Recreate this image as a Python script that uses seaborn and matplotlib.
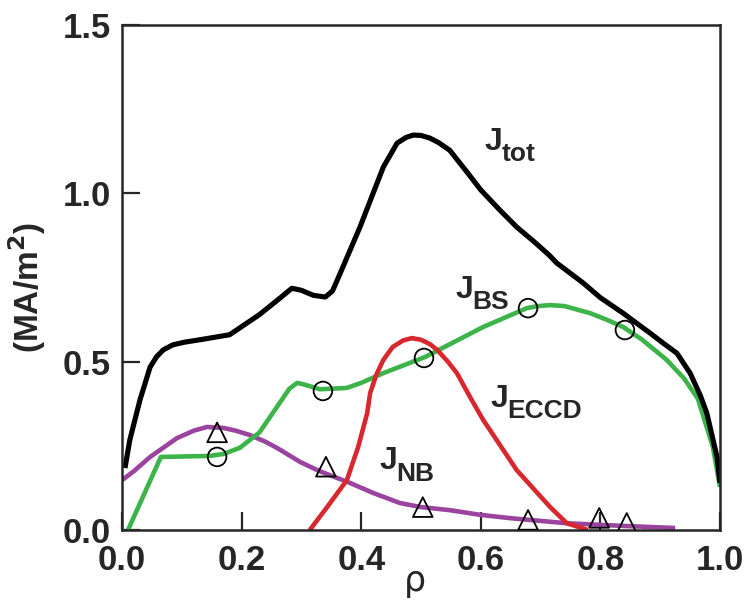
import numpy as np
import pandas as pd
import matplotlib
matplotlib.use("Agg")
import matplotlib.pyplot as plt
import seaborn as sns

# ---- data ----
rho_tot = [0.005, 0.013, 0.03, 0.047, 0.058, 0.069, 0.085, 0.105, 0.13, 0.18, 0.23, 0.265, 0.284,
           0.30, 0.32, 0.34, 0.352, 0.365, 0.398, 0.437, 0.46, 0.475, 0.487, 0.50, 0.515, 0.53,
           0.548, 0.577, 0.60, 0.632, 0.66, 0.69, 0.714, 0.727, 0.771, 0.80, 0.838, 0.86, 0.883,
           0.905, 0.928, 0.95, 0.967, 0.978, 0.995, 1.0]
j_tot = [0.184, 0.267, 0.386, 0.484, 0.515, 0.535, 0.55, 0.558, 0.565, 0.58, 0.64, 0.69, 0.718,
         0.712, 0.697, 0.692, 0.71, 0.763, 0.90, 1.078, 1.149, 1.166, 1.173, 1.172, 1.164, 1.15,
         1.128, 1.063, 1.01, 0.95, 0.90, 0.855, 0.817, 0.793, 0.734, 0.69, 0.644, 0.615, 0.585,
         0.555, 0.525, 0.466, 0.40, 0.347, 0.217, 0.14]

rho_bs = [0.01, 0.065, 0.147, 0.17, 0.197, 0.23, 0.28, 0.293, 0.305, 0.331, 0.376, 0.40, 0.437,
          0.507, 0.604, 0.677, 0.695, 0.716, 0.74, 0.783, 0.81, 0.838, 0.87, 0.911, 0.94, 0.963,
          0.988, 1.0]
j_bs = [0.0, 0.217, 0.22, 0.226, 0.244, 0.29, 0.42, 0.437, 0.432, 0.418, 0.422, 0.437, 0.466,
        0.514, 0.603, 0.659, 0.665, 0.668, 0.665, 0.644, 0.625, 0.603, 0.565, 0.505, 0.45, 0.39,
        0.247, 0.128]

rho_nb = [0.0, 0.02, 0.047, 0.092, 0.12, 0.142, 0.17, 0.19, 0.214, 0.24, 0.259, 0.298, 0.33, 0.381,
          0.42, 0.465, 0.50, 0.548, 0.599, 0.65, 0.744, 0.84, 0.925]
j_nb = [0.148, 0.175, 0.217, 0.273, 0.295, 0.306, 0.303, 0.295, 0.282, 0.262, 0.244, 0.202, 0.175,
        0.14, 0.11, 0.08, 0.068, 0.059, 0.045, 0.035, 0.02, 0.012, 0.006]

rho_eccd = [0.314, 0.343, 0.376, 0.395, 0.41, 0.415, 0.425, 0.437, 0.445, 0.453, 0.47, 0.485, 0.50,
            0.515, 0.527, 0.545, 0.56, 0.582, 0.604, 0.66, 0.716, 0.744, 0.779]
j_eccd = [0.0, 0.068, 0.148, 0.247, 0.347, 0.407, 0.46, 0.505, 0.525, 0.544, 0.563, 0.57, 0.565,
          0.552, 0.535, 0.50, 0.466, 0.395, 0.327, 0.178, 0.068, 0.02, 0.0]

bs_mark_rho = [0.159, 0.336, 0.505, 0.679, 0.841]
bs_mark_j = [0.217, 0.413, 0.511, 0.659, 0.594]

nb_mark_rho = [0.159, 0.341, 0.503, 0.679, 0.798, 0.844]
nb_mark_j = [0.29, 0.188, 0.068, 0.03, 0.036, 0.021]

x_ticks = [0.0, 0.2, 0.4, 0.6, 0.8, 1.0]
x_ticklabels = ["0.0", "0.2", "0.4", "0.6", "0.8", "1.0"]
y_ticks = [0.0, 0.5, 1.0, 1.5]
y_ticklabels = ["0.0", "0.5", "1.0", "1.5"]

labels = [("J", "tot", 0.607, 1.128), ("J", "BS", 0.557, 0.69),
          ("J", "ECCD", 0.617, 0.365), ("J", "NB", 0.43, 0.18)]

# ---- styling ----
sns.set_style("ticks")
FONT = ["Liberation Sans", "DejaVu Sans"]
plt.rcParams["font.family"] = FONT

fig = plt.figure(figsize=(7.48, 6.01), dpi=100)
ax = fig.add_axes([122 / 748, 1 - 530 / 601, (720 - 122) / 748, (530 - 25) / 601])

green = "#3cb44a"
purple = "#9a44a0"
red = "#d7282f"

sns.lineplot(x=rho_nb, y=j_nb, ax=ax, color=purple, lw=3.3, sort=False, estimator=None)
sns.lineplot(x=rho_bs, y=j_bs, ax=ax, color=green, lw=3.3, sort=False, estimator=None)
sns.lineplot(x=rho_eccd, y=j_eccd, ax=ax, color=red, lw=3.3, sort=False, estimator=None)
sns.lineplot(x=rho_tot, y=j_tot, ax=ax, color="black", lw=3.7, sort=False, estimator=None)
for l in ax.lines:
    l.set_solid_joinstyle("round")
    l.set_solid_capstyle("butt")

sns.scatterplot(x=bs_mark_rho, y=bs_mark_j, ax=ax, marker="o", s=180, facecolor="none",
                edgecolor="black", linewidth=1.3, zorder=5)
sns.scatterplot(x=nb_mark_rho, y=nb_mark_j, ax=ax, marker="^", s=200, facecolor="none",
                edgecolor="black", linewidth=1.3, zorder=5)

ax.set_xlim(0, 1.0)
ax.set_ylim(0, 1.5)
ax.set_xticks(x_ticks)
ax.set_xticklabels(x_ticklabels)
ax.set_yticks(y_ticks)
ax.set_yticklabels(y_ticklabels)
ax.tick_params(axis="both", direction="in", length=13, width=1.6, labelsize=25, pad=8)
ax.tick_params(axis="x", pad=10)
for lab in ax.get_xticklabels() + ax.get_yticklabels():
    lab.set_fontweight("bold")
for sp in ax.spines.values():
    sp.set_linewidth(1.8)
    sp.set_visible(True)

ax.set_xlabel("ρ", fontsize=25, family=["DejaVu Sans"], labelpad=0)
ax.xaxis.set_label_coords(0.49, -0.068)
ax.set_ylabel("(MA/m$^{\\mathbf{2}}$)", fontsize=24, fontweight="bold")
ax.yaxis.set_label_coords(-0.123, 0.48)

for main, sub, x, y in labels:
    ax.text(x, y, main, fontsize=23, fontweight="bold", ha="left", va="baseline")
    ax.annotate(sub, xy=(x, y), xytext=(12, -8), textcoords="offset points",
                fontsize=19, fontweight="bold", ha="left", va="baseline")

fig.savefig("out.png", dpi=100)
